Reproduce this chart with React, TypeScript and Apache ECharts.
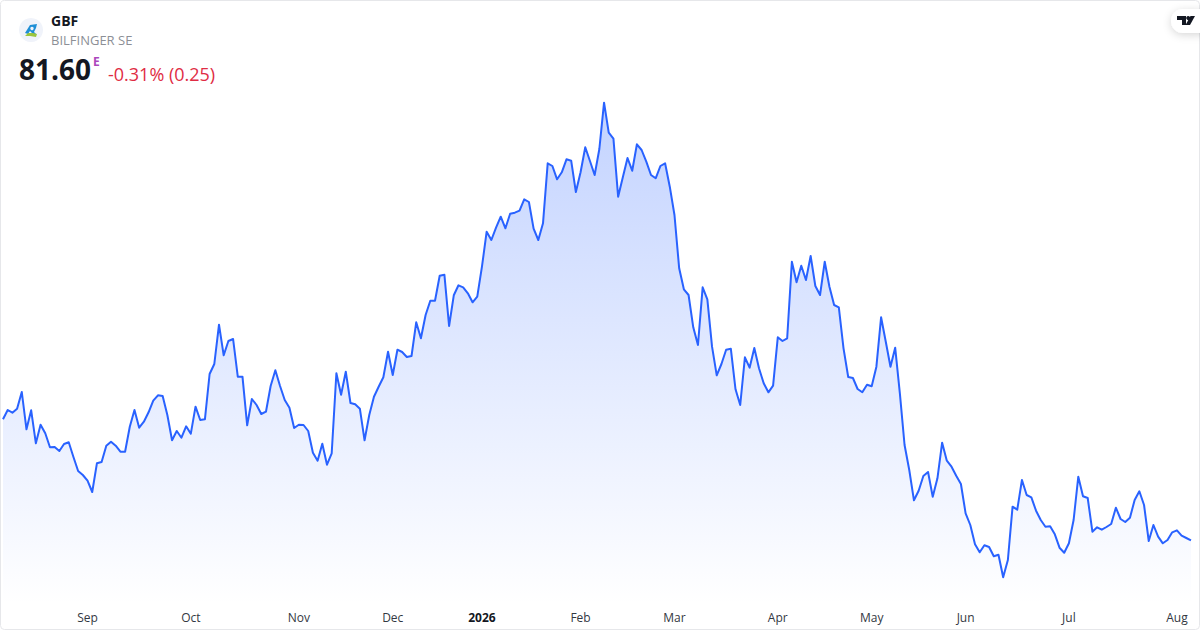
import React, { useEffect, useRef } from "react";
import * as echarts from "echarts";

const ticker = "GBF";
const companyName = "BILFINGER SE";
const lastPrice = "81.60";
const exchangeFlag = "E";
const changeText = "-0.31% (0.25)";

const closes = [
  93.70,94.63,94.36,94.76,96.43,92.70,94.60,91.30,93.16,92.30,90.90,90.93,90.53,91.23,91.40,89.93,88.53,88.13,87.56,86.43,
  89.30,89.43,91.06,91.46,91.06,90.46,90.46,92.96,94.63,92.86,93.46,94.40,95.56,96.10,96.03,94.13,91.60,92.53,91.86,93.00,
  92.26,94.96,93.63,93.70,98.23,99.23,103.16,100.10,101.53,101.73,97.96,97.96,93.10,95.73,95.13,94.23,94.46,97.03,98.60,97.03,
  95.63,94.86,92.83,93.16,93.13,92.53,90.36,89.56,91.26,89.16,90.30,98.30,96.16,98.46,95.33,95.20,94.76,91.60,94.13,95.96,
  96.96,97.90,100.46,98.13,100.66,100.43,99.93,100.03,103.40,101.80,104.13,105.56,105.56,108.06,108.16,103.03,106.10,107.10,106.90,106.30,
  105.40,105.96,108.96,112.46,111.63,112.86,113.96,112.80,114.26,114.36,114.56,115.70,115.43,112.76,111.63,113.30,119.30,119.03,117.70,118.40,
  119.70,119.56,116.43,118.40,120.90,119.53,118.13,120.73,125.36,122.36,121.76,115.96,117.90,119.83,118.56,121.20,120.63,119.46,118.13,117.80,
  119.03,119.30,116.96,114.13,108.80,106.70,106.13,102.90,101.13,106.90,105.70,100.96,98.10,99.23,100.66,100.76,96.70,95.13,99.90,98.86,
  100.83,98.80,97.30,96.40,97.06,101.90,101.53,101.80,109.46,107.40,109.06,107.63,110.03,107.03,106.13,109.46,106.96,105.13,104.90,100.80,
  97.93,97.83,96.73,96.40,97.16,97.00,98.96,103.90,101.46,98.96,100.86,96.30,91.13,88.63,85.60,86.56,88.03,88.43,85.96,87.80,
  91.36,89.56,88.96,88.06,87.23,84.30,83.13,81.20,80.40,81.10,80.93,80.00,80.16,77.90,79.63,84.96,84.66,87.63,86.13,85.90,
  84.56,83.63,82.96,83.00,82.20,80.86,80.36,81.30,83.63,87.96,86.00,85.83,82.46,82.90,82.66,82.93,83.23,84.86,83.73,83.43,
  83.86,85.63,86.50,85.13,81.53,83.13,81.96,81.30,81.63,82.40,82.60,82.06,81.83,81.60,
];
const sessions = closes.map((_, i) => i);
const tickSessions = [18, 40, 63, 83, 102, 123, 143, 165, 185, 205, 227, 250];
const tickLabels = ["Sep", "Oct", "Nov", "Dec", "2026", "Feb", "Mar", "Apr", "May", "Jun", "Jul", "Aug"];

const FONT = '"Open Sans", "Noto Sans", sans-serif';

export default function App() {
  const ref = useRef<HTMLDivElement>(null);
  useEffect(() => {
    document.body.style.margin = "0";
    const chart = echarts.init(ref.current!, undefined, { renderer: "svg", width: 1200, height: 630 });
    const labelOf = new Map(tickSessions.map((s, i) => [s, tickLabels[i]]));
    chart.setOption({
      animation: false,
      backgroundColor: "#ffffff",
      grid: { left: 3, width: 1188, top: 0, height: 605, containLabel: false },
      xAxis: {
        type: "category",
        boundaryGap: false,
        data: sessions,
        axisLine: { show: false },
        axisTick: { show: false },
        splitLine: { show: false },
        axisLabel: {
          margin: 4,
          interval: (i: number) => labelOf.has(i),
          fontFamily: FONT,
          fontSize: 12,
          color: "#333842",
          lineHeight: 16,
          hideOverlap: false,
          formatter: (v: string) => {
            const t = labelOf.get(Number(v)) ?? "";
            return t === "2026" ? `{b|${t}}` : t;
          },
          rich: { b: { fontFamily: FONT, fontSize: 12, fontWeight: 700, color: "#131722" } },
        },
      },
      yAxis: {
        type: "value",
        show: false,
        min: 135.63 - 60.5,
        max: 135.63,
      },
      series: [
        {
          type: "line",
          data: closes,
          showSymbol: false,
          symbol: "none",
          smooth: false,
          lineStyle: { color: "#2962ff", width: 2, join: "round" },
          areaStyle: {
            color: new echarts.graphic.LinearGradient(0, 0, 0, 1, [
              { offset: 0, color: "rgba(41,98,255,0.28)" },
              { offset: 1, color: "rgba(41,98,255,0)" },
            ]),
            opacity: 1,
          },
          silent: true,
        },
      ],
      graphic: [
        {
          type: "rect",
          shape: { x: 0.5, y: 0.5, width: 1199, height: 629, r: 4 },
          style: { fill: "none", stroke: "#e6e7ea", lineWidth: 1 },
          silent: true,
          z: 20,
        },
        // logo badge
        { type: "circle", shape: { cx: 31, cy: 30, r: 12 }, style: { fill: "#f0f3fa" }, z: 20 },
        { type: "polygon", shape: { points: [[25, 33], [30, 25], [37, 24], [36, 28], [34, 32], [36, 34], [33, 34], [30, 31], [28, 34]] }, style: { fill: "#1f8fd6" }, z: 21 },
        { type: "polygon", shape: { points: [[25, 36], [28, 33], [33, 33], [37, 34], [36, 37], [30, 36]] }, style: { fill: "#9bc53d" }, z: 22 },
        { type: "circle", shape: { cx: 32, cy: 28.5, r: 1.7 }, style: { fill: "#f0f3fa" }, z: 23 },
        // texts
        { type: "text", x: 51, y: 13, z: 20, style: { text: ticker, fontFamily: FONT, fontSize: 14, fontWeight: 700, fill: "#131722" } },
        { type: "text", x: 51, y: 33, z: 20, style: { text: companyName, fontFamily: FONT, fontSize: 13, fill: "#8c8f96" } },
        { type: "text", x: 19, y: 55, z: 20, style: { text: lastPrice, fontFamily: FONT, fontSize: 28, fontWeight: 700, fill: "#131722" } },
        { type: "text", x: 93, y: 55, z: 20, style: { text: exchangeFlag, fontFamily: FONT, fontSize: 12, fontWeight: 700, fill: "#ab47bc" } },
        { type: "text", x: 108, y: 65, z: 20, style: { text: changeText, fontFamily: FONT, fontSize: 18, fill: "#e02c44" } },
        // TradingView tab
        {
          type: "rect",
          shape: { x: 1171, y: 9, width: 40, height: 24, r: 12 },
          style: { fill: "#ffffff", shadowBlur: 8, shadowColor: "rgba(0,0,0,0.16)", shadowOffsetY: 2 },
          z: 20,
        },
        { type: "polygon", shape: { points: [[1177, 16], [1186, 16], [1186, 25], [1182, 25], [1182, 20], [1177, 20]] }, style: { fill: "#131722" }, z: 21 },
        { type: "circle", shape: { cx: 1188.2, cy: 18, r: 2 }, style: { fill: "#131722" }, z: 21 },
        { type: "polygon", shape: { points: [[1190.5, 16], [1195, 16], [1190, 25], [1185.5, 25]] }, style: { fill: "#131722" }, z: 21 },
      ],
    });
    return () => chart.dispose();
  }, []);
  return <div ref={ref} style={{ width: 1200, height: 630, position: "fixed", left: 0, top: 0 }} />;
}
